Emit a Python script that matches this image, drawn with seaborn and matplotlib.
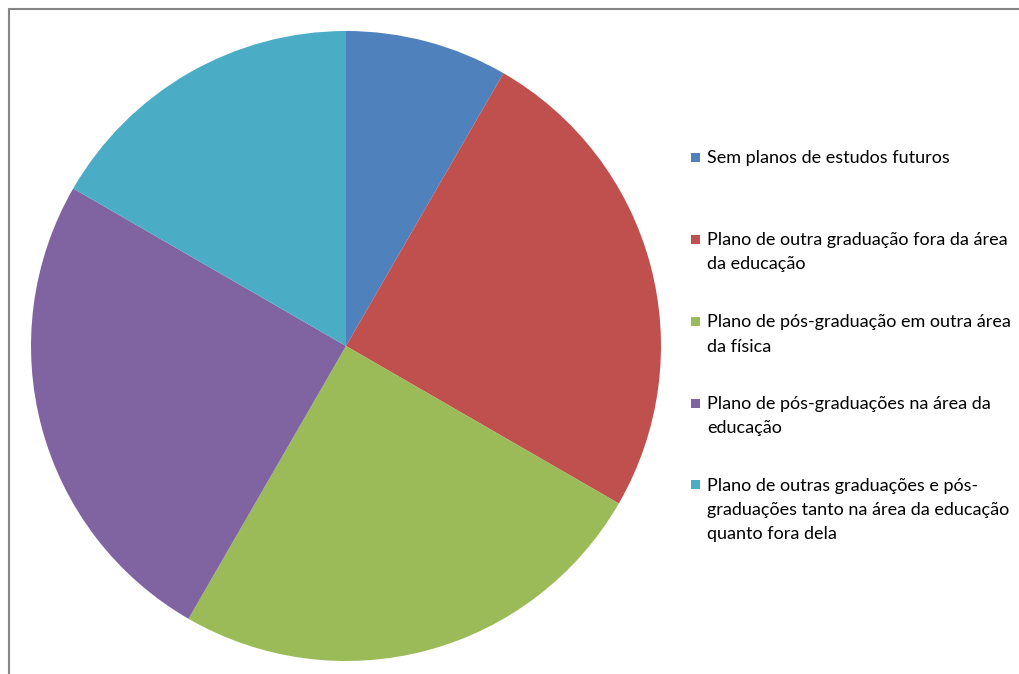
import matplotlib
matplotlib.use("Agg")
import matplotlib.pyplot as plt
import seaborn as sns
from matplotlib.patches import Rectangle

categories = [
    "Sem planos de estudos futuros",
    "Plano de outra graduação fora da área\nda educação",
    "Plano de pós-graduação em outra área\nda física",
    "Plano de pós-graduações na área da\neducação",
    "Plano de outras graduações e pós-\ngraduações tanto na área da educação\nquanto fora dela",
]
values = [1, 3, 3, 3, 2]
colors = ["#4F81BD", "#C0504D", "#9BBB59", "#8064A2", "#4BACC6"]

sns.set_theme(style="white")
plt.rcParams["font.family"] = ["Lato", "DejaVu Sans"]

W, H = 1019, 674
fig = plt.figure(figsize=(W / 100, H / 100), dpi=100)
fig.patch.set_facecolor("white")

cx, cy, r = 346, 346, 315
ax = fig.add_axes([(cx - r) / W, (H - cy - r) / H, 2 * r / W, 2 * r / H])
palette = sns.color_palette(colors)
wedges, _ = ax.pie(values, colors=palette, startangle=90, counterclock=False,
                   wedgeprops=dict(linewidth=0), frame=False)
ax.set_xlim(-1, 1)
ax.set_ylim(-1, 1)
ax.set_aspect("equal")
ax.axis("off")

# legend, drawn manually for exact positions
first_line_y = [157, 239, 321, 403, 484]
line_step = 24
for lab, col, y in zip(categories, palette, first_line_y):
    fig.patches.append(Rectangle((691 / W, (H - y - 4.5) / H), 9 / W, 9 / H,
                                 transform=fig.transFigure, facecolor=col,
                                 edgecolor="none"))
    for i, line in enumerate(lab.split("\n")):
        fig.text(707 / W, (H - y - i * line_step) / H, line, ha="left",
                 va="center_baseline", fontsize=13, color="black")

# chart border (only top and left edges visible in the frame)
fig.add_artist(plt.Line2D([8.5 / W, 8.5 / W], [0, (H - 8.5) / H],
                          transform=fig.transFigure, color="#868686", linewidth=1.5))
fig.add_artist(plt.Line2D([8.5 / W, 1.0], [(H - 8.5) / H, (H - 8.5) / H],
                          transform=fig.transFigure, color="#868686", linewidth=1.5))

fig.savefig("out.png", dpi=100, facecolor="white")
